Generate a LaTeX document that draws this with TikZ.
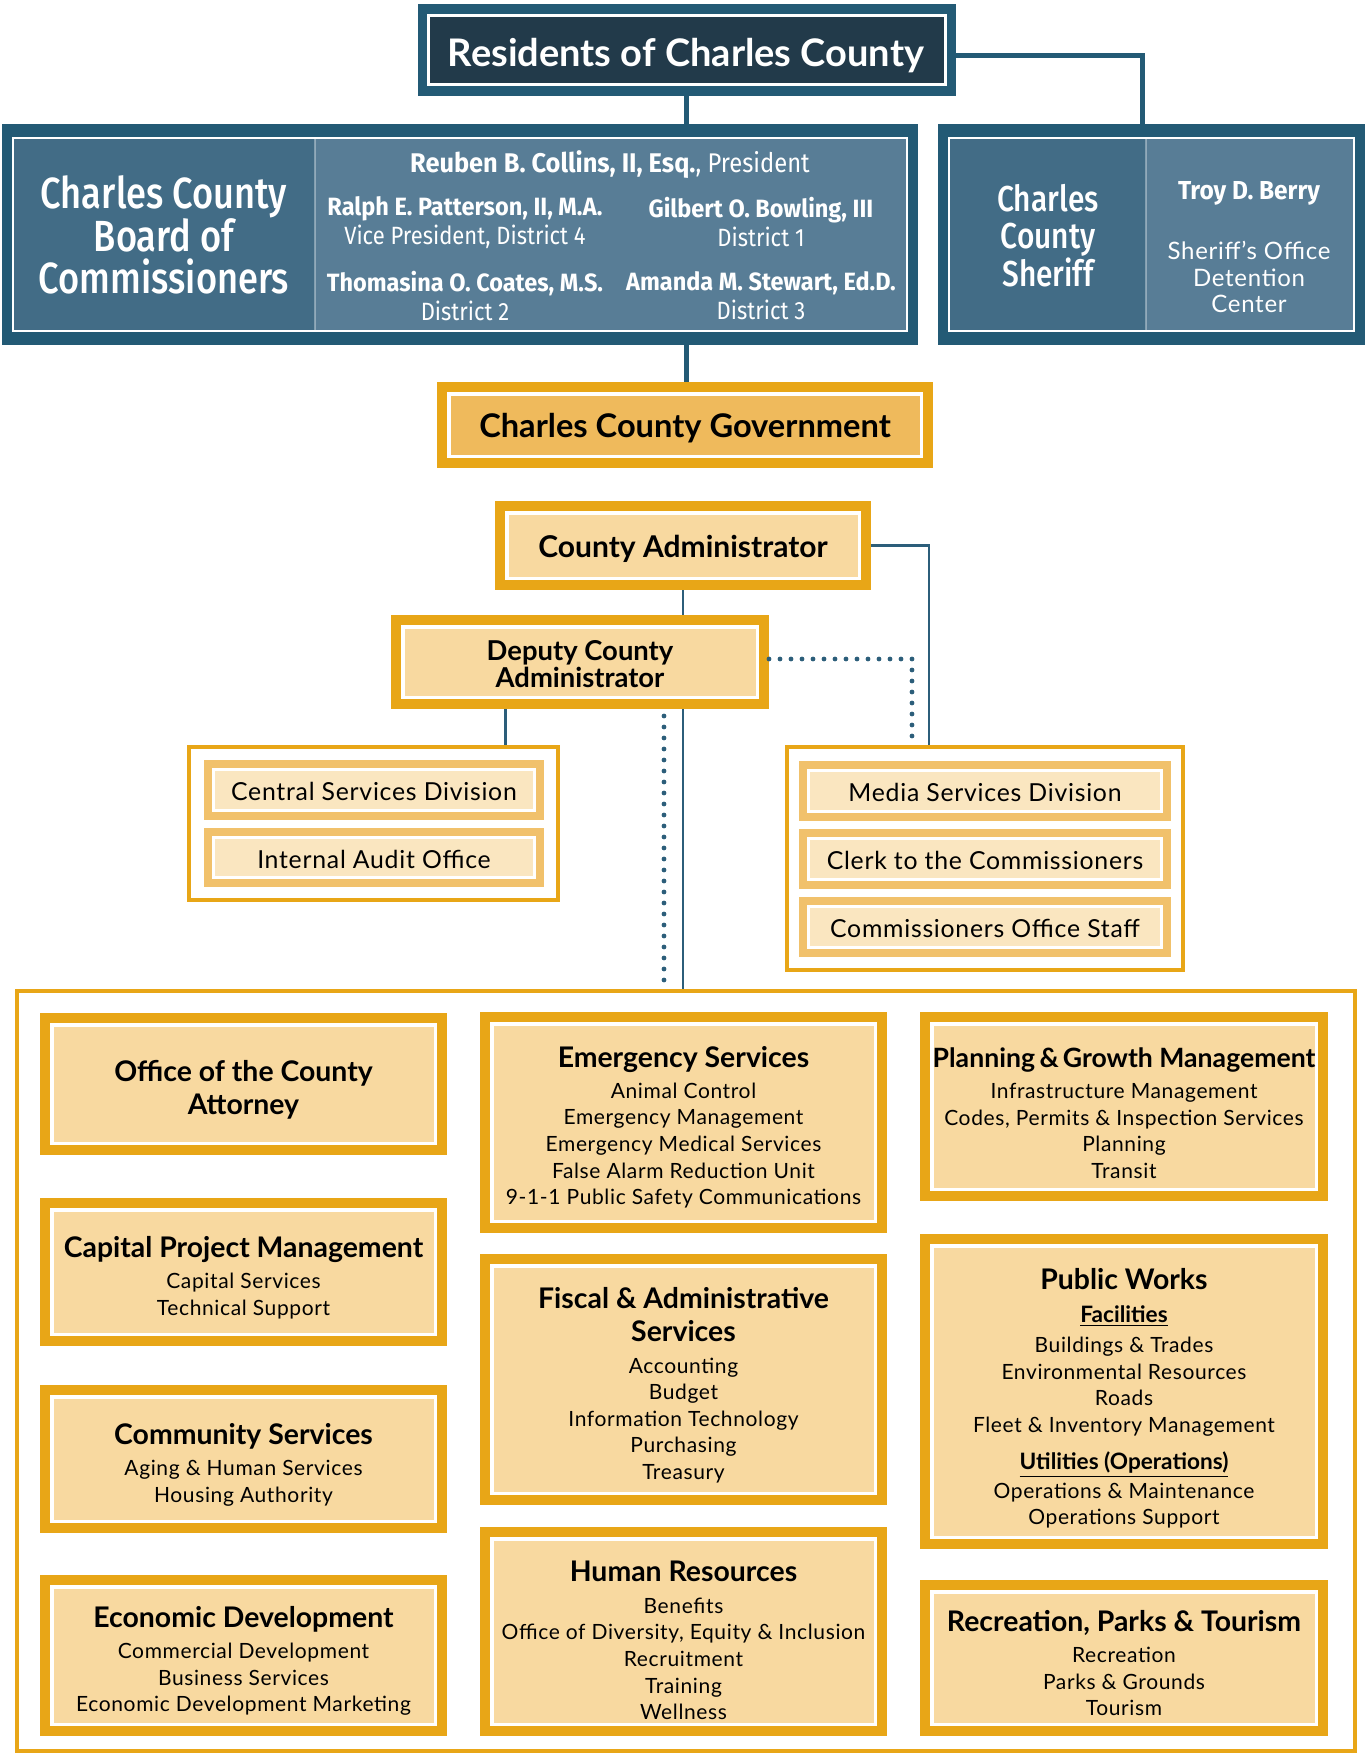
\documentclass[tikz,border=0pt]{standalone}
\usepackage{fontspec}
\setmainfont{Lato}[UprightFeatures={LetterSpace=3}, BoldFeatures={LetterSpace=0}]
\IfFontExistsTF{Fira Sans Medium}{\newfontfamily\condm{Fira Sans Medium}[FakeStretch=0.83]}{\newfontfamily\condm{Fira Sans}[FakeStretch=0.83]}
\newfontfamily\cond{Fira Sans}[FakeStretch=0.88]
\newfontfamily\condb{Fira Sans}[FakeStretch=0.94]
\definecolor{blueOuter}{HTML}{235A75}
\definecolor{blueLeft}{HTML}{426C86}
\definecolor{blueRight}{HTML}{587D96}
\definecolor{navy}{HTML}{223A4A}
\definecolor{gold}{HTML}{E8A617}
\definecolor{goldL}{HTML}{F1C16B}
\definecolor{govfill}{HTML}{EFBA5C}
\definecolor{fillc}{HTML}{F8D9A0}
\definecolor{fillL}{HTML}{FAE6C0}
\definecolor{lineblue}{HTML}{2C5E7A}
\newcommand\itemfont{\fontsize{10.5}{13.3}\selectfont}
\newcommand\ttlfont{\fontsize{14.2}{16.2}\selectfont\bfseries}
\newcommand\ulfont{\fontsize{11.3}{13}\selectfont\bfseries}
\newcommand\tamp{\kern-0.07em\&\kern-0.09em}
% box node (#2, style #1box) and its text node (#2t, style #1txt) shifted down by #9 pt
\newcommand\gbox[9]{\node[#1box, minimum width={(#5-#3-2*(#7))*0.5pt}, minimum height={(#6-#4-2*(#7))*0.5pt}] (#2) at ({(#3+#5)/2},{(#4+#6)/2}) {};
  \node[#1txt] (#2t) at ([yshift=-#9pt]#2.center) {#8};}
\begin{document}
\begin{tikzpicture}[x=0.5pt,y=-0.5pt, line join=miter,
  bluebox/.style={fill=blueOuter, draw=none, inner sep=0pt, outer sep=0pt},
  colbox/.style={fill=fillc, draw=white, line width=1.75pt, preaction={draw=gold, line width=11.75pt}, inner sep=0pt, outer sep=5.875pt},
  coltxt/.style={align=center, inner sep=0pt, text=black, font=\itemfont},
  govbox/.style={colbox, fill=govfill},
  govtxt/.style={coltxt, font=\fontsize{16.3}{18}\selectfont\bfseries},
  cabox/.style={colbox},
  catxt/.style={coltxt, font=\fontsize{15}{17}\selectfont\bfseries},
  depbox/.style={colbox},
  deptxt/.style={coltxt, font=\fontsize{13.7}{13.5}\selectfont\bfseries},
  smbox/.style={fill=fillL, draw=white, line width=1.5pt, preaction={draw=goldL, line width=9.5pt}, inner sep=0pt, outer sep=4.75pt},
  smtxt/.style={align=center, inner sep=0pt, text=black, font=\fontsize{12.4}{14}\selectfont},
  grp/.style={draw=gold, line width=1.75pt, fill=white, inner sep=0pt},
  thickline/.style={draw=blueOuter, line width=2.5pt},
  thinline/.style={draw=lineblue, line width=1.35pt},
  dotline/.style={draw=lineblue, line width=2.4pt, dash pattern=on 0pt off 5.5pt, line cap=round},
  wtext/.style={text=white, align=center, inner sep=0pt}]
\useasboundingbox (0,0) rectangle (1368,1756);
\fill[white] (0,0) rectangle (1368,1756);
% ---- top blue boxes
\node[bluebox, minimum width=269pt, minimum height=46pt] (res) at (687,50) {};
\fill[navy] (428,15) rectangle (945,84);
\draw[white, line width=1.5pt] (428,15) rectangle (945,84);
\node[wtext, font=\fontsize{19}{22}\selectfont\bfseries] (restxt) at (686,55.5) {Residents of Charles County};

\node[bluebox, minimum width=458pt, minimum height=110.5pt] (board) at (460,234.5) {};
\fill[blueLeft] (13,138) rectangle (315,331);
\fill[blueRight] (315,138) rectangle (907,331);
\draw[white, opacity=0.35, line width=0.6pt] (315,138) -- (315,331);
\draw[white, line width=1.35pt] (13,138) rectangle (907,331);
\node[wtext, font=\condm\fontsize{21.8}{21.3}\selectfont] (boardlbl) at (164,235) {Charles County\\Board of\\Commissioners};
\node[wtext, font=\fontsize{13.5}{14.5}\selectfont] (reuben) at (610,165) {{\condb\bfseries Reuben B. Collins, II, Esq.}{\cond, President}};
\node[wtext, font=\cond\fontsize{12.5}{14.5}\selectfont] (ralph) at (465,222.5) {{\condb\bfseries Ralph E. Patterson, II, M.A.}\\Vice President, District 4};
\node[wtext, font=\cond\fontsize{12.5}{14.5}\selectfont] (gilbert) at (761,222.5) {{\condb\bfseries Gilbert O. Bowling, III}\\District 1};
\node[wtext, font=\cond\fontsize{12.5}{14.5}\selectfont] (thom) at (465,296) {{\condb\bfseries Thomasina O. Coates, M.S.}\\District 2};
\node[wtext, font=\cond\fontsize{12.5}{14.5}\selectfont] (amanda) at (761,296) {{\condb\bfseries Amanda M. Stewart, Ed.D.}\\District 3};

\node[bluebox, minimum width=213.5pt, minimum height=110.5pt] (sheriff) at (1151.5,234.5) {};
\fill[blueLeft] (949,138) rectangle (1146,331);
\fill[blueRight] (1146,138) rectangle (1354,331);
\draw[white, opacity=0.35, line width=0.6pt] (1146,138) -- (1146,331);
\draw[white, line width=1.35pt] (949,138) rectangle (1354,331);
\node[wtext, font=\condm\fontsize{18}{18.2}\selectfont] (sherlbl) at (1048,236) {Charles\\County\\Sheriff};
\node[wtext, font=\condb\bfseries\fontsize{13}{15}\selectfont] (troy) at (1249,193) {Troy D. Berry};
\node[wtext, font=\fontsize{12}{13.45}\selectfont] (soff) at (1249,277) {Sheriff’s Office\\Detention\\Center};

% ---- government and administrators
\gbox{gov}{gov}{437}{382}{933}{468}{11.75}{Charles County Government}{1.8}
\gbox{ca}{ca}{495}{501}{871}{590}{11.75}{County Administrator}{1.6}
\gbox{dep}{dep}{391}{615}{769}{709}{11.75}{Deputy County\\Administrator}{1.2}

% ---- groups
\node[grp, minimum width=184.5pt, minimum height=76.5pt] (cgrp) at (373.5,823.5) {};
\gbox{sm}{cs}{204}{760}{544}{820}{9.5}{Central Services Division}{0.8}
\gbox{sm}{ia}{204}{828}{544}{887}{9.5}{Internal Audit Office}{0.8}
\node[grp, minimum width=198pt, minimum height=111.5pt] (mgrp) at (985,858.5) {};
\gbox{sm}{ms}{799}{761}{1171}{821}{9.5}{Media Services Division}{0.8}
\gbox{sm}{cl}{799}{829}{1171}{889}{9.5}{Clerk to the Commissioners}{0.8}
\gbox{sm}{co}{799}{897}{1171}{957}{9.5}{Commissioners Office Staff}{0.8}

\node[grp, minimum width=669pt, minimum height=380pt] (big) at (686,1371) {};

% ---- departments
\gbox{col}{att}{40}{1013}{447}{1155}{11.75}{{\ttlfont Office of the County}\\[3.2pt]{\ttlfont Attorney}}{3}
\gbox{col}{cap}{40}{1198}{447}{1346}{11.75}{{\ttlfont Capital Project Management}\\[2.2pt] Capital Services\\ Technical Support}{2.8}
\gbox{col}{com}{40}{1385}{447}{1533}{11.75}{{\ttlfont Community Services}\\[2.2pt] Aging \& Human Services\\ Housing Authority}{2.8}
\gbox{col}{eco}{40}{1575}{447}{1736}{11.75}{{\ttlfont Economic Development}\\[2.2pt] Commercial Development\\ Business Services\\ Economic Development Marketing}{2.8}
\gbox{col}{ems}{480}{1012}{887}{1233}{11.75}{{\ttlfont Emergency Services}\\[2.2pt] Animal Control\\ Emergency Management\\ Emergency Medical Services\\ False Alarm Reduction Unit\\ 9-1-1 Public Safety Communications}{2.4}
\gbox{col}{fis}{480}{1254}{887}{1505}{11.75}{{\ttlfont Fiscal \& Administrative}\\[3pt]{\ttlfont Services}\\[2.5pt] Accounting\\ Budget\\ Information Technology\\ Purchasing\\ Treasury}{3}
\gbox{col}{hr}{480}{1527}{887}{1736}{11.75}{{\ttlfont Human Resources}\\[2.5pt] Benefits\\ Office of Diversity, Equity \& Inclusion\\ Recruitment\\ Training\\ Wellness}{4.5}
\gbox{col}{pgm}{920}{1012}{1328}{1201}{11.75}{{\fontsize{13.3}{16.2}\selectfont\bfseries Planning \tamp{} Growth Management}\\[2.2pt] Infrastructure Management\\ Codes, Permits \& Inspection Services\\ Planning\\ Transit}{3.3}
\gbox{col}{pw}{920}{1234}{1328}{1549}{11.75}{{\ttlfont Public Works}\\[3.2pt] {\ulfont\underline{Facilities}}\\[1.7pt] Buildings \& Trades\\ Environmental Resources\\ Roads\\ Fleet \& Inventory Management\\[5.2pt] {\ulfont\underline{Utilities (Operations)}}\\[1.2pt] Operations \& Maintenance\\ Operations Support}{3.5}
\gbox{col}{rpt}{920}{1580}{1328}{1736}{11.75}{{\ttlfont Recreation, Parks \& Tourism}\\[2.5pt] Recreation\\ Parks \& Grounds\\ Tourism}{2.5}

% ---- connectors
\coordinate (mx) at (686,0);
\coordinate (rj) at (1142.5,55.5);
\coordinate (cj) at (929,0);
\coordinate (dl) at (505.5,0);
\coordinate (dy) at (0,659);
\coordinate (dd) at (912,741);
\coordinate (dx) at (664,716);
\draw[thickline] (res.south -| mx) -- (board.north -| mx);
\draw[thickline] (board.south -| mx) -- (gov.north -| mx);
\draw[thickline] (res.east |- rj) -- (rj) -- (sheriff.north -| rj);
\draw[thinline] (ca.south) -- (dep.north -| ca.south);
\draw[thinline] (dep.south -| ca.south) -- (big.north -| ca.south);
\draw[thinline] (ca.east) -| (mgrp.north -| cj);
\draw[thinline] (dep.south -| dl) -- (cgrp.north -| dl);
\draw[dotline] (dep.east |- dy) -| (dd);
\draw[dotline] (dx) -- (big.north -| dx);
\end{tikzpicture}
\end{document}
